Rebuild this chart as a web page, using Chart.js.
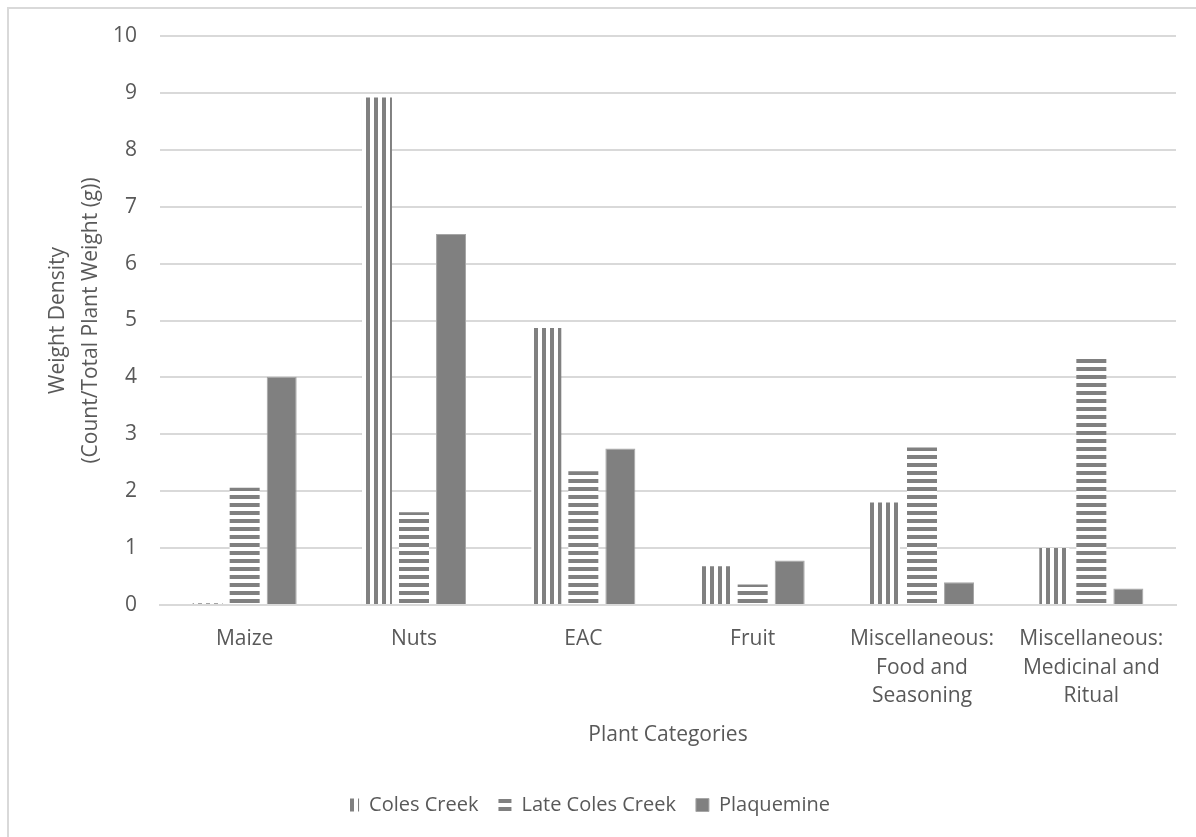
<!DOCTYPE html>
<html>
<head>
<meta charset="utf-8">
<script src="https://cdn.jsdelivr.net/npm/chart.js@4.4.1/dist/chart.umd.min.js"></script>
<style>
  html, body { margin: 0; padding: 0; background: #fff; }
  #frame { position: absolute; left: 7px; top: 7px; width: 1200px; height: 840px;
           border-left: 2px solid #d9d9d9; border-top: 2px solid #d9d9d9; }
  #wrap { position: absolute; left: 0; top: 0; width: 1196px; height: 837px; }
</style>
</head>
<body>
<div id="frame"></div>
<div id="wrap"><canvas id="c" width="1196" height="837"></canvas></div>
<script>
// Plant categories (multi-line labels as arrays)
const categories = [
  'Maize',
  'Nuts',
  'EAC',
  'Fruit',
  ['Miscellaneous:', 'Food and', 'Seasoning'],
  ['Miscellaneous:', 'Medicinal and', 'Ritual']
];

// Weight density per period
const colesCreek     = [0.03, 8.92, 4.87, 0.68, 1.80, 1.00];
const lateColesCreek = [2.06, 1.63, 2.35, 0.36, 2.77, 4.33];
const plaquemine     = [4.01, 6.52, 2.75, 0.78, 0.40, 0.29];

// Value axis ticks
const yTicks = [0, 1, 2, 3, 4, 5, 6, 7, 8, 9, 10];

const TEXT = '#595959';
const GRID = '#d9d9d9';
const FILL = '#808080';
const FONT = 'Open Sans, Lato, sans-serif';

// 8px stripe tiles: 4px gray, 4px white
function stripes(vertical) {
  const t = document.createElement('canvas');
  t.width = 8; t.height = 8;
  const g = t.getContext('2d');
  g.fillStyle = '#ffffff';
  g.fillRect(0, 0, 8, 8);
  g.fillStyle = FILL;
  if (vertical) {
    g.fillRect(6, 0, 2, 8);
    g.fillRect(0, 0, 2, 8);
  } else {
    g.fillRect(0, 7, 8, 1);
    g.fillRect(0, 0, 8, 3);
  }
  return g.createPattern(t, 'repeat');
}

const ctx = document.getElementById('c').getContext('2d');
const vPattern = stripes(true);
const hPattern = stripes(false);

new Chart(ctx, {
  type: 'bar',
  data: {
    labels: categories,
    datasets: [
      { label: 'Coles Creek', data: colesCreek, backgroundColor: vPattern,
        borderWidth: 0, barPercentage: 0.81, categoryPercentage: 0.656 },
      { label: 'Late Coles Creek', data: lateColesCreek, backgroundColor: hPattern,
        borderWidth: 0, barPercentage: 0.81, categoryPercentage: 0.656 },
      { label: 'Plaquemine', data: plaquemine, backgroundColor: FILL,
        borderColor: '#a6a6a6', borderWidth: 1, barPercentage: 0.81, categoryPercentage: 0.656 }
    ]
  },
  options: {
    responsive: false,
    animation: false,
    layout: { padding: { top: 36, right: 20, bottom: 12, left: 0 } },
    plugins: {
      tooltip: { enabled: false },
      legend: {
        position: 'bottom',
        labels: {
          boxWidth: 13, boxHeight: 13, padding: 20,
          color: TEXT, font: { family: FONT, size: 20 }
        }
      }
    },
    scales: {
      x: {
        grid: { display: false },
        border: { display: true, color: GRID, width: 2 },
        ticks: {
          color: TEXT, font: { family: FONT, size: 21, lineHeight: 1.35 },
          padding: 12, maxRotation: 0, autoSkip: false
        },
        title: {
          display: true, text: 'Plant Categories', color: TEXT,
          font: { family: FONT, size: 21, lineHeight: 1.2 },
          padding: { top: 0, bottom: 27 }
        },
        afterFit(scale) { scale.height = 170; }
      },
      y: {
        min: 0, max: 10,
        afterBuildTicks(scale) { scale.ticks = yTicks.map(v => ({ value: v })); },
        ticks: { color: TEXT, font: { family: FONT, size: 21 }, padding: 23 },
        grid: { color: GRID, lineWidth: 2, drawTicks: false },
        border: { display: false },
        title: {
          display: true,
          text: ['Weight Density', '(Count/Total Plant Weight (g))'],
          color: TEXT,
          font: { family: FONT, size: 21, lineHeight: 1.55 },
          padding: { top: 42, bottom: 0 }
        },
        afterFit(scale) { scale.width = 160; }
      }
    }
  }
});
</script>
</body>
</html>
